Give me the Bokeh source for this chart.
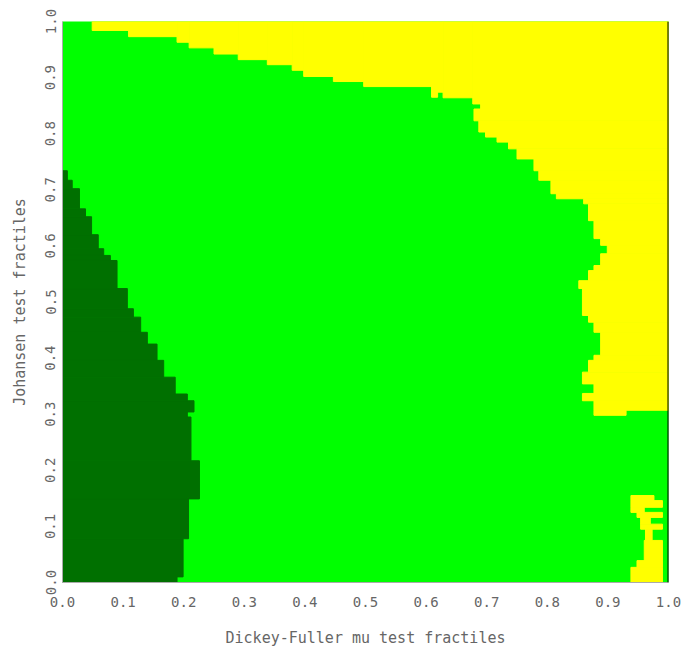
from bokeh.plotting import figure
from bokeh.models import Range1d, FixedTicker, Span
from bokeh.embed import file_html
from bokeh.resources import INLINE

# ---- data (boundaries of the classified regions) ----
x_ticks = [0.0, 0.1, 0.2, 0.3, 0.4, 0.5, 0.6, 0.7, 0.8, 0.9, 1.0]
x_tick_labels = ["0.0", "0.1", "0.2", "0.3", "0.4", "0.5", "0.6", "0.7", "0.8", "0.9", "1.0"]
y_ticks = [0.0, 0.1, 0.2, 0.3, 0.4, 0.5, 0.6, 0.7, 0.8, 0.9, 1.0]
y_tick_labels = ["0.0", "0.1", "0.2", "0.3", "0.4", "0.5", "0.6", "0.7", "0.8", "0.9", "1.0"]

# dark green region: rows [bottom, top), extends from x=0 to right edge
dark_bottom = [0.000, 0.010, 0.078, 0.149, 0.217, 0.295, 0.304, 0.324, 0.336, 0.366, 0.396, 0.425,
               0.446, 0.473, 0.488, 0.524, 0.574, 0.583, 0.595, 0.620, 0.652, 0.666, 0.702, 0.717]
dark_top = [0.010, 0.078, 0.149, 0.217, 0.295, 0.304, 0.324, 0.336, 0.366, 0.396, 0.425, 0.446,
            0.473, 0.488, 0.524, 0.574, 0.583, 0.595, 0.620, 0.652, 0.666, 0.702, 0.717, 0.734]
dark_right = [0.189, 0.199, 0.208, 0.226, 0.212, 0.206, 0.217, 0.206, 0.186, 0.167, 0.156, 0.140,
              0.129, 0.117, 0.107, 0.090, 0.079, 0.068, 0.059, 0.048, 0.038, 0.028, 0.016, 0.008]

# yellow region at the top: columns [left, right), from bottom edge up to y=1
top_left = [0.049, 0.109, 0.189, 0.209, 0.250, 0.290, 0.338, 0.379, 0.398, 0.447, 0.497, 0.609, 0.619, 0.628, 0.677]
top_right = [0.109, 0.189, 0.209, 0.250, 0.290, 0.338, 0.379, 0.398, 0.447, 0.497, 0.609, 0.619, 0.628, 0.677, 1.000]
top_bottom = [0.984, 0.973, 0.963, 0.953, 0.942, 0.932, 0.923, 0.913, 0.902, 0.893, 0.884, 0.865, 0.874, 0.864, 0.853]

# yellow region on the right: rows [bottom, top), from left edge to right edge
side_bottom = [0.298, 0.307, 0.324, 0.337, 0.354, 0.375, 0.396, 0.405, 0.446, 0.464, 0.476, 0.524, 0.538,
               0.556, 0.565, 0.586, 0.601, 0.613, 0.645, 0.675, 0.684, 0.693, 0.717, 0.734, 0.755,
               0.773, 0.785, 0.794, 0.803, 0.823, 0.844]
side_top = [0.307, 0.324, 0.337, 0.354, 0.375, 0.396, 0.405, 0.446, 0.464, 0.476, 0.524, 0.538, 0.556,
            0.565, 0.586, 0.601, 0.613, 0.645, 0.675, 0.684, 0.693, 0.717, 0.734, 0.755, 0.773,
            0.785, 0.794, 0.803, 0.823, 0.844, 0.853]
side_left = [0.877, 0.877, 0.858, 0.877, 0.858, 0.868, 0.877, 0.888, 0.877, 0.868, 0.858, 0.852, 0.868,
             0.877, 0.888, 0.899, 0.888, 0.877, 0.868, 0.860, 0.815, 0.806, 0.786, 0.778, 0.750,
             0.736, 0.717, 0.698, 0.687, 0.679, 0.690]
side_right = [0.930, 1.000, 1.000, 1.000, 1.000, 1.000, 1.000, 1.000, 1.000, 1.000, 1.000, 1.000, 1.000,
              1.000, 1.000, 1.000, 1.000, 1.000, 1.000, 1.000, 1.000, 1.000, 1.000, 1.000, 1.000,
              1.000, 1.000, 1.000, 1.000, 1.000, 1.000]

# small yellow patch at the bottom right
patch_bottom = [0.000, 0.027, 0.039, 0.075, 0.095, 0.104, 0.116, 0.125, 0.134, 0.146]
patch_top = [0.027, 0.039, 0.075, 0.095, 0.104, 0.116, 0.125, 0.134, 0.146, 0.155]
patch_left = [0.938, 0.948, 0.960, 0.962, 0.954, 0.954, 0.948, 0.938, 0.938, 0.938]
patch_right = [0.990, 0.990, 0.990, 0.973, 0.990, 0.970, 0.990, 0.960, 0.990, 0.976]

GREEN = "#00ff00"
DARK = "#007000"
YELLOW = "#ffff00"
TEXT = "#666666"
FONT = "DejaVu Sans Mono"

p = figure(width=684, height=657, x_range=Range1d(0, 1), y_range=Range1d(0, 1),
           output_backend="svg", toolbar_location=None,
           min_border_left=62, min_border_right=16, min_border_top=21, min_border_bottom=75)
p.background_fill_color = GREEN
p.border_fill_color = "white"
p.outline_line_color = None
p.xgrid.visible = False
p.ygrid.visible = False

p.quad(left=0, right=dark_right, bottom=dark_bottom, top=dark_top,
       fill_color=DARK, line_color=DARK, line_width=1)
p.quad(left=top_left, right=top_right, bottom=top_bottom, top=1,
       fill_color=YELLOW, line_color=YELLOW, line_width=1)
p.quad(left=side_left, right=side_right, bottom=side_bottom, top=side_top,
       fill_color=YELLOW, line_color=YELLOW, line_width=1)
p.quad(left=patch_left, right=patch_right, bottom=patch_bottom, top=patch_top,
       fill_color=YELLOW, line_color=YELLOW, line_width=1)

p.add_layout(Span(location=1.0, dimension="height", line_color="black", line_width=2))

for ax in (p.xaxis[0], p.yaxis[0]):
    ax.axis_line_color = "#aaaaaa"
    ax.axis_line_width = 1
    ax.major_tick_line_color = None
    ax.minor_tick_line_color = None
    ax.major_tick_out = 0
    ax.major_tick_in = 0
    ax.major_label_text_color = TEXT
    ax.major_label_text_font = FONT
    ax.major_label_text_font_size = "14px"
    ax.axis_label_text_color = TEXT
    ax.axis_label_text_font = FONT
    ax.axis_label_text_font_size = "15px"
    ax.axis_label_text_font_style = "normal"

p.xaxis.ticker = FixedTicker(ticks=x_ticks)
p.xaxis.major_label_overrides = dict(zip(x_ticks, x_tick_labels))
p.yaxis.ticker = FixedTicker(ticks=y_ticks)
p.yaxis.major_label_overrides = dict(zip(y_ticks, y_tick_labels))
p.yaxis.major_label_orientation = "vertical"
p.xaxis.major_label_standoff = 14
p.yaxis.major_label_standoff = 7
p.xaxis.axis_label = "Dickey-Fuller mu test fractiles"
p.yaxis.axis_label = "Johansen test fractiles"
p.xaxis.axis_label_standoff = 19
p.yaxis.axis_label_standoff = 14

open("out.html", "w").write(file_html(p, INLINE))
